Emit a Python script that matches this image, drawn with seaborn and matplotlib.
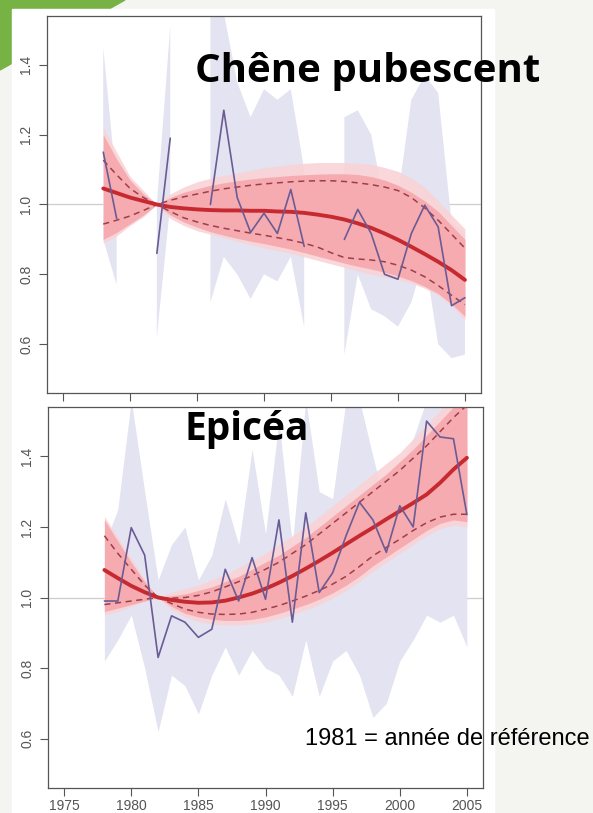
import numpy as np
import pandas as pd
import seaborn as sns
import matplotlib.pyplot as plt
from matplotlib.patches import Polygon, Rectangle

nan = np.nan
years = list(range(1978, 2006))
x_ticks = [1975, 1980, 1985, 1990, 1995, 2000, 2005]
y_ticks = [0.6, 0.8, 1.0, 1.2, 1.4]
y_ticklabels = ["0.6", "0.8", "1.0", "1.2", "1.4"]

# Chêne pubescent
chene_obs = [1.15, 0.96, nan, nan, 0.86, 1.19, nan, nan, 1.00, 1.27, 1.02, 0.92, 0.975, 0.917,
             1.043, 0.88, nan, nan, 0.90, 0.986, 0.917, 0.80, 0.786, 0.917, 0.998, 0.936, 0.71, 0.733]
chene_med = [1.046, 1.033, 1.020, 1.010, 1.000, 0.993, 0.989, 0.986, 0.984, 0.983, 0.983, 0.982, 0.982, 0.980,
             0.979, 0.976, 0.971, 0.965, 0.957, 0.946, 0.933, 0.917, 0.899, 0.879, 0.858, 0.836, 0.812, 0.784]
chene_qhi = [1.127, 1.085, 1.046, 1.020, 1.000, 1.012, 1.022, 1.030, 1.038, 1.045, 1.050, 1.055, 1.059, 1.062,
             1.065, 1.067, 1.068, 1.068, 1.066, 1.062, 1.057, 1.050, 1.040, 1.020, 0.990, 0.955, 0.915, 0.875]
chene_qlo = [0.944, 0.955, 0.967, 0.983, 1.000, 0.980, 0.962, 0.950, 0.940, 0.932, 0.925, 0.918, 0.912, 0.905,
             0.898, 0.889, 0.878, 0.862, 0.848, 0.844, 0.841, 0.836, 0.826, 0.812, 0.793, 0.768, 0.740, 0.713]
chene_band_hi = [1.20, 1.13, 1.07, 1.03, 1.00, 1.02, 1.035, 1.045, 1.055, 1.062, 1.068, 1.073, 1.077, 1.080,
                 1.083, 1.085, 1.087, 1.088, 1.088, 1.086, 1.080, 1.070, 1.055, 1.035, 1.010, 0.98, 0.94, 0.90]
chene_band_lo = [0.90, 0.92, 0.945, 0.97, 1.00, 0.97, 0.95, 0.935, 0.922, 0.912, 0.903, 0.895, 0.888, 0.880,
                 0.872, 0.862, 0.852, 0.842, 0.832, 0.823, 0.815, 0.806, 0.795, 0.782, 0.765, 0.745, 0.715, 0.680]
chene_outer_hi = [1.22, 1.15, 1.08, 1.04, 1.00, 1.03, 1.05, 1.065, 1.075, 1.083, 1.09, 1.098, 1.105, 1.11,
                  1.115, 1.118, 1.12, 1.12, 1.12, 1.118, 1.115, 1.106, 1.095, 1.075, 1.05, 1.01, 0.97, 0.93]
chene_outer_lo = [0.89, 0.91, 0.94, 0.965, 1.00, 0.96, 0.94, 0.925, 0.915, 0.905, 0.895, 0.885, 0.875, 0.868,
                  0.86, 0.85, 0.84, 0.83, 0.82, 0.81, 0.80, 0.792, 0.785, 0.775, 0.76, 0.74, 0.71, 0.67]
chene_raw_hi = [1.45, 1.05, nan, nan, 1.00, 1.51, nan, nan, 1.55, 1.55, 1.35, 1.25, 1.33, 1.30,
                1.33, 1.10, nan, nan, 1.25, 1.27, 1.20, 1.00, 1.02, 1.30, 1.37, 1.32, 0.95, 0.92]
chene_raw_lo = [0.90, 0.77, nan, nan, 0.62, 1.00, nan, nan, 0.72, 0.85, 0.80, 0.73, 0.80, 0.78,
                0.85, 0.65, nan, nan, 0.57, 0.80, 0.70, 0.68, 0.65, 0.72, 0.85, 0.60, 0.56, 0.57]

# Epicéa
epicea_obs = [0.99, 0.99, 1.198, 1.12, 0.83, 0.948, 0.93, 0.887, 0.91, 1.08, 0.99, 1.113, 0.995, 1.22,
              0.93, 1.24, 1.014, 1.07, 1.175, 1.27, 1.22, 1.128, 1.26, 1.20, 1.50, 1.455, 1.45, 1.235]
epicea_med = [1.078, 1.055, 1.033, 1.015, 1.000, 0.993, 0.988, 0.985, 0.986, 0.991, 1.000, 1.011, 1.025, 1.042,
              1.061, 1.082, 1.104, 1.127, 1.151, 1.175, 1.198, 1.222, 1.245, 1.268, 1.292, 1.325, 1.363, 1.396]
epicea_qhi = [1.175, 1.125, 1.080, 1.035, 1.000, 0.998, 1.000, 1.006, 1.016, 1.030, 1.045, 1.062, 1.080, 1.100,
              1.125, 1.150, 1.180, 1.210, 1.240, 1.270, 1.300, 1.330, 1.360, 1.395, 1.430, 1.470, 1.510, 1.545]
epicea_qlo = [0.980, 0.985, 0.990, 0.995, 1.000, 0.983, 0.967, 0.958, 0.953, 0.952, 0.953, 0.958, 0.967, 0.977,
              0.990, 1.004, 1.020, 1.038, 1.060, 1.088, 1.118, 1.142, 1.165, 1.190, 1.212, 1.228, 1.236, 1.236]
epicea_band_hi = [1.22, 1.16, 1.10, 1.045, 1.00, 1.005, 1.01, 1.02, 1.03, 1.045, 1.06, 1.08, 1.10, 1.12,
                  1.145, 1.17, 1.20, 1.23, 1.26, 1.29, 1.32, 1.35, 1.385, 1.42, 1.46, 1.50, 1.54, 1.58]
epicea_band_lo = [0.96, 0.97, 0.98, 0.99, 1.00, 0.975, 0.955, 0.945, 0.938, 0.935, 0.935, 0.938, 0.945, 0.955,
                  0.967, 0.98, 0.995, 1.013, 1.035, 1.06, 1.09, 1.115, 1.14, 1.165, 1.19, 1.21, 1.22, 1.215]
epicea_outer_hi = [1.23, 1.17, 1.11, 1.05, 1.00, 1.015, 1.025, 1.035, 1.05, 1.065, 1.085, 1.105, 1.125, 1.15,
                   1.175, 1.20, 1.23, 1.26, 1.29, 1.32, 1.35, 1.38, 1.41, 1.45, 1.49, 1.53, 1.57, 1.60]
epicea_outer_lo = [0.95, 0.96, 0.975, 0.99, 1.00, 0.965, 0.945, 0.932, 0.925, 0.922, 0.922, 0.925, 0.93, 0.94,
                   0.952, 0.965, 0.98, 0.998, 1.02, 1.045, 1.075, 1.10, 1.125, 1.15, 1.175, 1.195, 1.205, 1.20]
epicea_raw_hi = [1.15, 1.25, 1.56, 1.30, 1.05, 1.15, 1.20, 1.05, 1.12, 1.28, 1.15, 1.42, 1.18, 1.50,
                 1.15, 1.56, 1.30, 1.28, 1.56, 1.56, 1.40, 1.25, 1.35, 1.45, 1.56, 1.56, 1.56, 1.45]
epicea_raw_lo = [0.82, 0.88, 0.95, 0.80, 0.62, 0.78, 0.75, 0.67, 0.78, 0.86, 0.78, 0.85, 0.80, 0.78,
                 0.72, 0.88, 0.72, 0.82, 0.85, 0.78, 0.66, 0.70, 0.82, 0.88, 0.95, 0.93, 0.95, 0.86]

sns.set_style("ticks")
plt.rcParams['font.family'] = ['Liberation Sans', 'DejaVu Sans']

W, H = 593, 813
fig = plt.figure(figsize=(W / 100, H / 100), dpi=100)
fig.patch.set_facecolor('#f4f5f1')

# slide background: green corner and the white pasted plot area
fig.patches.append(Polygon([(0, 1), (125 / W, 1), (0, 1 - 70 / H)], closed=True,
                           transform=fig.transFigure, color='#77b244', zorder=-3))
fig.patches.append(Rectangle((12 / W, 0), (494 - 12) / W, 1 - 9 / H,
                             transform=fig.transFigure, color='white', zorder=-2))

ax1 = fig.add_axes([47 / W, 1 - 393 / H, (481 - 47) / W, (393 - 16) / H])
ax2 = fig.add_axes([48 / W, 1 - 788 / H, (483 - 48) / W, (788 - 407) / H])


def draw_panel(ax, obs, med, qhi, qlo, band_hi, band_lo, outer_hi, outer_lo, raw_hi, raw_lo):
    ax.axhline(1.0, color='#cdcdcd', lw=0.9, zorder=0.5)
    ax.fill_between(years, raw_lo, raw_hi, color='#e3e3f1', lw=0, zorder=1)
    ax.fill_between(years, outer_lo, outer_hi, color='#f9d3d6', lw=0, alpha=0.9, zorder=1.5)
    ax.fill_between(years, band_lo, band_hi, color='#f6abb0', lw=0, zorder=2)

    df = pd.DataFrame({'year': years, 'med': med, 'qhi': qhi, 'qlo': qlo, 'obs': obs})
    sns.lineplot(data=df, x='year', y='qhi', ax=ax, color='#9c3f4a', lw=1.1, ls=(0, (4, 3)), zorder=3)
    sns.lineplot(data=df, x='year', y='qlo', ax=ax, color='#9c3f4a', lw=1.1, ls=(0, (4, 3)), zorder=3)
    sns.lineplot(data=df, x='year', y='med', ax=ax, color='#c62a30', lw=2.8, zorder=4)

    # observed series is broken where data is missing
    df['seg'] = df['obs'].isna().cumsum()
    obs_df = df.dropna(subset=['obs'])
    sns.lineplot(data=obs_df, x='year', y='obs', units='seg', estimator=None, ax=ax,
                 color='#6b5b95', lw=1.2, zorder=5, legend=False)

    ax.set_xlim(1973.8, 2006.2)
    ax.set_ylim(0.46, 1.54)
    ax.set_xticks(x_ticks)
    ax.set_yticks(y_ticks)
    ax.set_yticklabels(y_ticklabels)
    ax.set_xlabel('')
    ax.set_ylabel('')
    ax.tick_params(direction='out', length=6, width=0.8, color='#555555',
                   labelcolor='#555555', labelsize=10)
    ax.tick_params(axis='x', pad=2)
    ax.tick_params(axis='y', labelrotation=90, pad=4)
    for lbl in ax.get_yticklabels():
        lbl.set_va('center')
    for s in ax.spines.values():
        s.set_visible(True)
        s.set_color('#555555')
        s.set_linewidth(0.9)
    ax.set_facecolor('white')


draw_panel(ax1, chene_obs, chene_med, chene_qhi, chene_qlo, chene_band_hi, chene_band_lo,
           chene_outer_hi, chene_outer_lo, chene_raw_hi, chene_raw_lo)
draw_panel(ax2, epicea_obs, epicea_med, epicea_qhi, epicea_qlo, epicea_band_hi, epicea_band_lo,
           epicea_outer_hi, epicea_outer_lo, epicea_raw_hi, epicea_raw_lo)
ax1.tick_params(axis='x', labelbottom=False)

fig.text(195 / W, 1 - 82 / H, "Chêne pubescent", family=['Open Sans', 'DejaVu Sans'],
         fontweight='bold', fontsize=29, ha='left', va='baseline', color='black')
fig.text(184 / W, 1 - 440 / H, "Epicéa", family=['Open Sans', 'DejaVu Sans'],
         fontweight='bold', fontsize=28, ha='left', va='baseline', color='black')
fig.text(305 / W, 1 - 745 / H, "1981 = année de référence", family=['Liberation Sans', 'DejaVu Sans'],
         fontsize=17, ha='left', va='baseline', color='black')

fig.savefig('out.png', dpi=100, facecolor=fig.get_facecolor())
